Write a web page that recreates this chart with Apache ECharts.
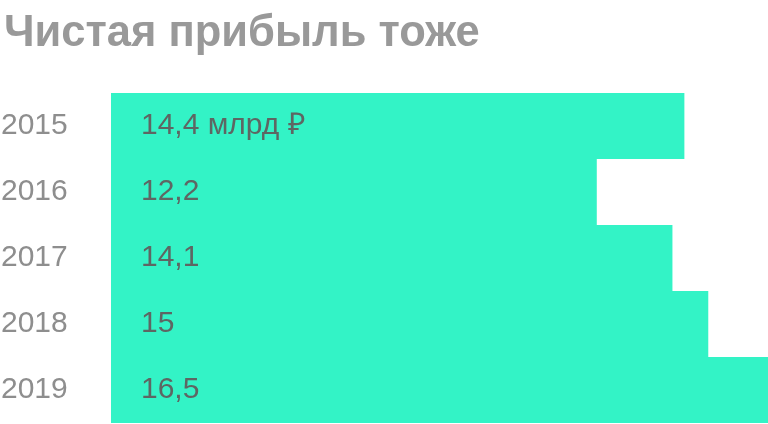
<html>
  <head>
    <title>Чистая прибыль</title>
    <script src="https://cdn.jsdelivr.net/npm/echarts@6/dist/echarts.min.js"></script>
    <style>
      html, body { margin: 0; padding: 0; background: #ffffff; }
      #chart { width: 768px; height: 424px; }
    </style>
  </head>
  <body>
    <div id="chart"></div>
    <script>
      // данные
      var years = ['2015', '2016', '2017', '2018', '2019']
      var profit = [14.4, 12.2, 14.1, 15, 16.5]
      var unit = ' млрд ₽'

      var myChart = echarts.init(document.getElementById('chart'))

      myChart.setOption({
        animation: false,
        title: {
          text: 'Чистая прибыль тоже',
          left: -1,
          top: 7,
          textStyle: {
            fontFamily: 'Liberation Sans',
            fontWeight: 'bold',
            fontSize: 43.5,
            color: '#999999'
          }
        },
        grid: {
          left: 111,
          right: 0,
          top: 93,
          bottom: 1,
          outerBoundsMode: 'none'
        },
        xAxis: {
          type: 'value',
          min: 0,
          max: 16.5,
          show: false
        },
        yAxis: {
          type: 'category',
          data: years,
          inverse: true,
          axisLine: { show: false },
          axisTick: { show: false },
          axisLabel: {
            align: 'left',
            margin: 110,
            fontFamily: 'Liberation Sans',
            fontSize: 30,
            color: '#8e8e8e'
          }
        },
        series: [
          {
            type: 'bar',
            data: profit,
            barCategoryGap: 0,
            itemStyle: { color: '#33f3c6' },
            label: {
              show: true,
              position: 'insideLeft',
              distance: 30,
              fontFamily: 'Liberation Sans',
              fontSize: 30,
              color: '#5e6663',
              formatter: function (p) {
                var s = String(p.value).replace('.', ',')
                return p.dataIndex === 0 ? s + unit : s
              }
            }
          }
        ]
      })
    </script>
  </body>
</html>
